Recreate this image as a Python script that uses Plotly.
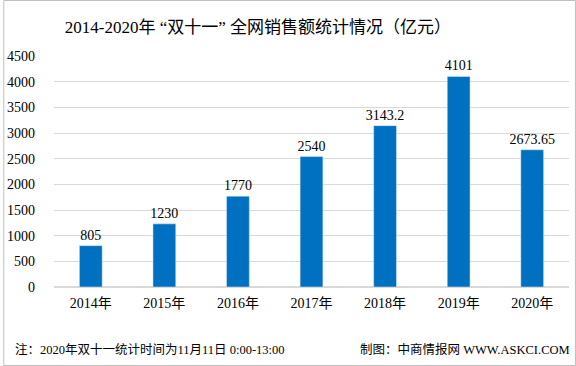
import plotly.graph_objects as go

years = ["2014年", "2015年", "2016年", "2017年", "2018年", "2019年", "2020年"]
sales = [805, 1230, 1770, 2540, 3143.2, 4101, 2673.65]
labels = ["805", "1230", "1770", "2540", "3143.2", "4101", "2673.65"]
y_ticks = [0, 500, 1000, 1500, 2000, 2500, 3000, 3500, 4000, 4500]

FONT = "Liberation Serif, Noto Sans CJK SC, serif"

fig = go.Figure(go.Bar(
    x=years, y=sales, text=labels, textposition="outside",
    marker_color="#0070C0", cliponaxis=False, constraintext="none",
    textfont=dict(size=14, color="#000000", family=FONT),
))

W, H = 576, 366
L, R, T, B = 51, 7, 56, 79
pw, ph = W - L - R, H - T - B

fig.update_layout(
    width=W, height=H,
    margin=dict(l=L, r=R, t=T, b=B),
    paper_bgcolor="white", plot_bgcolor="white",
    bargap=0.69, showlegend=False,
    font=dict(family=FONT, size=13, color="#000000"),
    title=dict(text="2014-2020年 “双十一” 全网销售额统计情况（亿元）",
               x=258 / W, xanchor="center", y=1 - 27 / H, yanchor="middle",
               font=dict(size=17, family=FONT)),
    xaxis=dict(showgrid=False, showline=False, ticks="",
               tickfont=dict(size=14), ticklabelstandoff=6),
    yaxis=dict(range=[0, 4500], tickvals=y_ticks, showgrid=True,
               gridcolor="#D9D9D9", gridwidth=1, zeroline=True,
               zerolinecolor="#D9D9D9", showline=False, ticks="",
               tickfont=dict(size=14), ticklabelstandoff=18),
)

fig.add_shape(type="rect", xref="paper", yref="paper",
              x0=(0.5 - L) / pw, x1=(W - L - 0.5) / pw,
              y0=-(B - 0.5) / ph, y1=(H - B - 0.5) / ph,
              line=dict(color="#BFBFBF", width=1), layer="below")

fig.add_annotation(text="注：2020年双十一统计时间为11月11日 0:00-13:00",
                   xref="paper", yref="paper", x=(10 - L) / pw, y=-(349 - (H - B)) / ph,
                   xanchor="left", yanchor="middle", showarrow=False,
                   font=dict(size=12.5, family=FONT))
fig.add_annotation(text="制图：中商情报网 WWW.ASKCI.COM",
                   xref="paper", yref="paper", x=(357 - L) / pw, y=-(349 - (H - B)) / ph,
                   xanchor="left", yanchor="middle", showarrow=False,
                   font=dict(size=12.5, family=FONT))

fig.write_html("out.html", config={"displayModeBar": False},
               post_script="document.body.style.margin='0';")
